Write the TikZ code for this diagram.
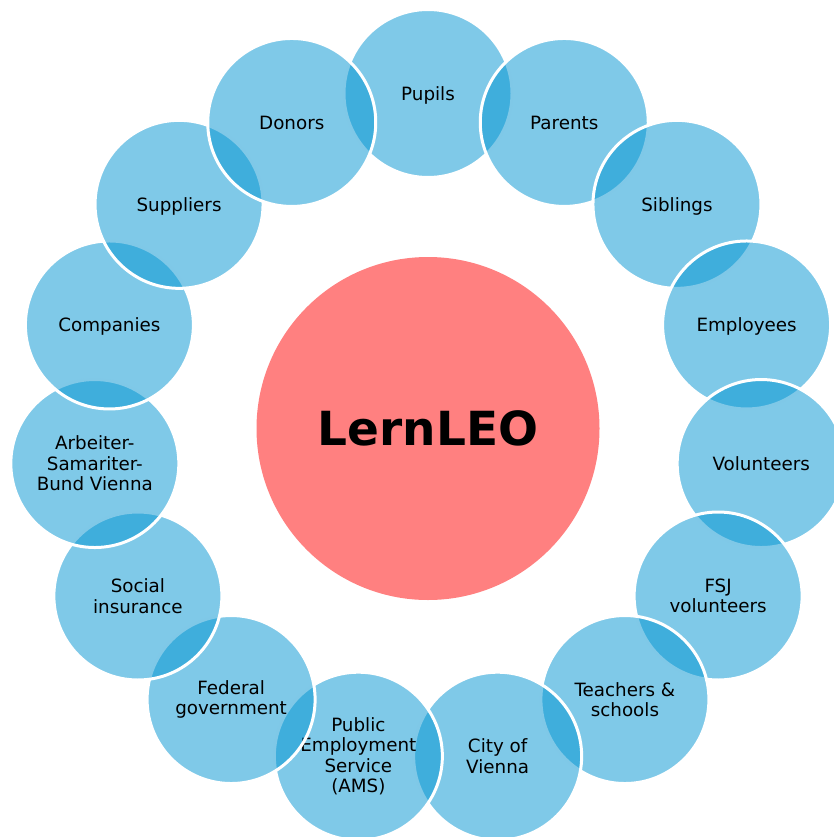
\documentclass[tikz,border=0pt]{standalone}
\usepackage{fontspec}
\setmainfont{DejaVu Sans}
\definecolor{ringblue}{RGB}{0,147,209}
\definecolor{hubred}{RGB}{255,128,128}
% single-line labels are centred on their letters, not on their descenders
\newcommand{\nodepth}[1]{\raisebox{0pt}[\height][0pt]{#1}}
\begin{document}
\begin{tikzpicture}[x=1pt,y=-1pt,
  member/.style={circle, minimum size=168pt, inner sep=0pt,
    fill=ringblue, fill opacity=0.5, draw=white, draw opacity=1,
    line width=3pt, text opacity=1, text=black, align=center,
    font=\fontsize{18.3}{20.6}\selectfont},
  hub/.style={circle, minimum size=343pt, inner sep=0pt, fill=hubred,
    text=black, font=\fontsize{47}{50}\selectfont\bfseries}]
\useasboundingbox (0,0) rectangle (834,837);
\clip (0,0) rectangle (834,837);
\node[hub] (hub) at (428,428.5) {LernLEO};
% ring of stakeholders, clockwise from the top; each one overlays the previous
\foreach \ang/\nm/\txt in {
   90/pupils/\nodepth{Pupils},
   66/parents/\nodepth{Parents},
   42/siblings/\nodepth{Siblings},
   18/employees/\nodepth{Employees},
   -6/volunteers/\nodepth{Volunteers},
  -30/fsj/{FSJ\\volunteers},
  -54/teachers/{Teachers \&\\schools},
  -78/city/{City of\\Vienna},
 -102/ams/{Public\\Employment\\Service\\(AMS)},
 -126/federal/{Federal\\government},
 -150/social/{Social\\insurance},
 -174/asb/{Arbeiter-\\Samariter-\\Bund Vienna},
  162/companies/\nodepth{Companies},
  138/suppliers/\nodepth{Suppliers},
  114/donors/\nodepth{Donors}}
{
  \node[member] (\nm) at ({428+335*cos(\ang)},{428.5-335*sin(\ang)}) {\txt};
}
\end{tikzpicture}
\end{document}
